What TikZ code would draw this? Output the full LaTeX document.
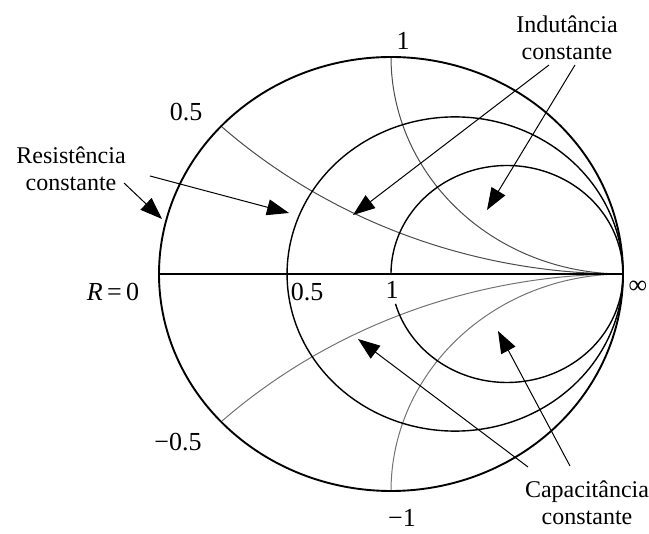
\documentclass[tikz,border=0pt]{standalone}
\usepackage{fontspec}
\setmainfont{Liberation Serif}
\usetikzlibrary{arrows.meta}
\begin{document}
\begin{tikzpicture}[x=1pt,y=-1pt,
  lbl/.style={font=\fontsize{24}{26.5}\selectfont, align=center, inner sep=0pt},
  num/.style={font=\fontsize{26}{28}\selectfont, inner sep=0pt},
  pointer/.style={line width=1pt, -{Triangle[length=22pt,width=16pt]}},
  outerc/.style={line width=1.9pt},
  axisline/.style={line width=2.5pt},
  rcirc/.style={line width=1.4pt},
  xarcup/.style={line width=1pt, black!70},
  xarclo/.style={line width=1pt, black!55}]
\useasboundingbox (0,0) rectangle (649,534);
\begin{scope}[shift={(391,274)}, x=232pt, y=217pt]
  % reactance arcs (upper)
  \draw[xarcup] plot[domain=180:270, samples=80, smooth] ({1+cos(\x)},{1+sin(\x)});
  \draw[xarcup] plot[domain=227.2:270, samples=80, smooth] ({1+2.544*cos(\x)},{2.544+2.544*sin(\x)});
  % reactance arcs (lower)
  \draw[xarclo] plot[domain=180:90, samples=80, smooth] ({1+cos(\x)},{-1+sin(\x)});
  \draw[xarclo] plot[domain=132.8:90, samples=80, smooth] ({1+2.544*cos(\x)},{-2.544+2.544*sin(\x)});
  % resistance circles
  \draw[rcirc] plot[domain=0:360, samples=181, smooth] ({0.276+0.724*cos(\x)},{0.724*sin(\x)}) -- cycle;
  \draw[rcirc] plot[domain=0:180, samples=91, smooth] ({0.5+0.5*cos(\x)},{0.5*sin(\x)});
  \draw[rcirc] plot[domain=196:360, samples=91, smooth] ({0.5+0.5*cos(\x)},{0.5*sin(\x)});
  % outer circle and axis
  \draw[outerc] plot[domain=0:360, samples=181, smooth] ({cos(\x)},{sin(\x)}) -- cycle;
  \coordinate (L) at (-1,0);
  \coordinate (Rt) at (1,0);
  \draw[axisline] (L) -- (Rt);
\end{scope}

% labels
\node[lbl] (res) at (71,169) {Resistência\\constante};
\node[lbl] (ind) at (567,38) {Indutância\\constante};
\node[lbl] (cap) at (587,503) {Capacitância\\constante};

\node[num] (n1) at (403,41) {1};
\node[num] (n05) at (186,112) {0.5};
\node[num] (r0) at (113,292) {\textit{R}\,=\,0};
\node[num] (a05) at (307,292) {0.5};
\node[num] (a1) at (392,290) {1};
\node[num] (inf) at (638,287) {∞};
\node[num] (m05) at (178,442) {−0.5};
\node[num] (m1) at (402,518) {−1};

% arrow endpoints
\coordinate (a1s) at (124,183); \coordinate (a1e) at (162,219);
\coordinate (a2s) at (150,176); \coordinate (a2e) at (289,213);
\coordinate (b1s) at (549,65);  \coordinate (b1e) at (353,215);
\coordinate (b2s) at (575,65);  \coordinate (b2e) at (487,210);
\coordinate (c1s) at (528,467); \coordinate (c1e) at (358,339);
\coordinate (c2s) at (570,466); \coordinate (c2e) at (498,331);

\draw[pointer] (a1s) -- (a1e);
\draw[pointer] (a2s) -- (a2e);
\draw[pointer] (b1s) -- (b1e);
\draw[pointer] (b2s) -- (b2e);
\draw[pointer] (c1s) -- (c1e);
\draw[pointer] (c2s) -- (c2e);
\end{tikzpicture}
\end{document}
